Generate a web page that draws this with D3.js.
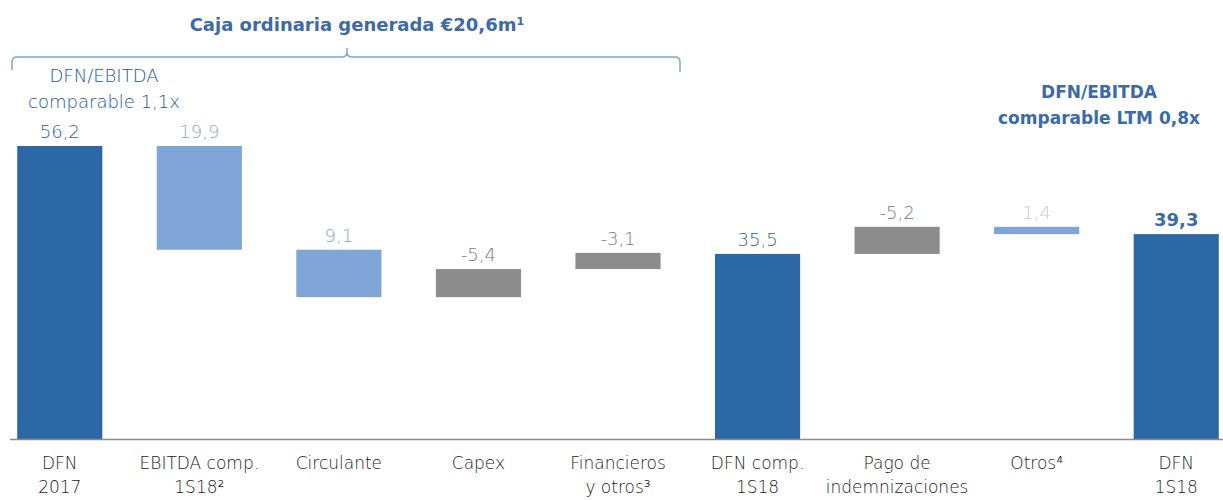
<!DOCTYPE html>
<html>
<head>
<meta charset="utf-8">
<script src="https://cdn.jsdelivr.net/npm/d3@7"></script>
<style>
  body { margin: 0; background: #fff; }
  svg { display: block; }
  text { font-family: "DejaVu Sans", Lato, sans-serif; }
</style>
</head>
<body>
<div id="visualization"></div>
<script>
// chart data
const categories = ["DFN 2017", "EBITDA comp. 1S18", "Circulante", "Capex", "Financieros y otros",
                    "DFN comp. 1S18", "Pago de indemnizaciones", "Otros", "DFN 1S18"];
const labelLines = [["DFN", "2017"], ["EBITDA comp.", "1S18²"], ["Circulante"], ["Capex"], ["Financieros", "y otros³"],
                    ["DFN comp.", "1S18"], ["Pago de", "indemnizaciones"], ["Otros⁴"], ["DFN", "1S18"]];
const values = [56.2, -19.9, -9.1, 5.4, 3.1, 35.5, 5.2, -1.4, 39.3];
const valueLabels = ["56,2", "19,9", "9,1", "-5,4", "-3,1", "35,5", "-5,2", "1,4", "39,3"];
const kinds = ["total", "down", "down", "up", "up", "total", "up", "down", "total"];

const W = 1223, H = 501;
const svg = d3.select("#visualization").append("svg")
    .attr("width", W).attr("height", H);

const x = d3.scaleBand()
    .domain(categories)
    .range([-10, 1246])
    .paddingInner(0.39)
    .paddingOuter(0.195);

const y = d3.scaleLinear()
    .domain([0, 56.2])
    .range([439, 146]);

// build waterfall segments
let level = 0;
const bars = categories.map((c, i) => {
    let lo, hi;
    if (kinds[i] == "total") {
        level = values[i];
        lo = 0; hi = values[i];
    } else {
        const next = level + values[i];
        lo = Math.min(level, next); hi = Math.max(level, next);
        level = next;
    }
    return { cat: c, lo: lo, hi: hi, kind: kinds[i], label: valueLabels[i], i: i };
});

const fill = { total: "#2d68a6", down: "#7ea5d6", up: "#8c8c8c" };
const labelColor = ["#2d5f9e", "#86a9d8", "#7ea5d6", "#777", "#777", "#2d5f9e", "#777", "#c8c8c8", "#3a6aa8"];

svg.selectAll(".bar")
    .data(bars)
    .enter().append("rect")
    .attr("class", "bar")
    .attr("x", d => x(d.cat))
    .attr("width", x.bandwidth())
    .attr("y", d => y(d.hi))
    .attr("height", d => Math.max(y(d.lo) - y(d.hi), 1))
    .attr("fill", d => fill[d.kind]);

// baseline
svg.append("line")
    .attr("x1", 10).attr("x2", W)
    .attr("y1", y(0) + 0.5).attr("y2", y(0) + 0.5)
    .attr("stroke", "#8a8a8a").attr("stroke-width", 1.5);

// value labels
svg.selectAll(".val")
    .data(bars)
    .enter().append("text")
    .attr("class", "val")
    .attr("x", d => x(d.cat) + x.bandwidth() / 2)
    .attr("y", d => y(d.hi) - 8)
    .attr("text-anchor", "middle")
    .style("font-size", "18px")
    .style("font-weight", d => d.i == 8 ? "bold" : 200)
    .attr("fill", d => labelColor[d.i])
    .text(d => d.label);

// category labels
const cl = svg.selectAll(".cat")
    .data(categories)
    .enter().append("text")
    .attr("class", "cat")
    .attr("x", d => x(d) + x.bandwidth() / 2)
    .attr("y", 469)
    .attr("text-anchor", "middle")
    .style("font-size", "17px")
    .style("font-weight", 200)
    .attr("fill", "#1a1a1a");
cl.selectAll("tspan")
    .data((d, i) => labelLines[i])
    .enter().append("tspan")
    .attr("x", function() { return d3.select(this.parentNode).attr("x"); })
    .attr("dy", (d, j) => j == 0 ? 0 : 24)
    .text(d => d);

// brace over the ordinary cash items
const braceColor = "#7ea5d6";
svg.append("path")
    .attr("d", "M12,70 L12,62 Q12,57 17,57 L342,57 Q347,57 347,52 L347,48 M347,52 Q347,57 352,57 L675,57 Q680,57 680,62 L680,72")
    .attr("fill", "none")
    .attr("stroke", braceColor)
    .attr("stroke-width", 1.5);

svg.append("text")
    .attr("x", 357).attr("y", 31)
    .attr("text-anchor", "middle")
    .style("font-size", "18px").style("font-weight", "bold")
    .attr("fill", "#3a6aa8")
    .text("Caja ordinaria generada €20,6m¹");

// left ratio note
svg.append("text")
    .attr("x", 104).attr("y", 82)
    .attr("text-anchor", "middle")
    .style("font-size", "18px")
    .style("font-weight", 200)
    .attr("fill", "#21569a")
    .selectAll("tspan")
    .data(["DFN/EBITDA", "comparable 1,1x"])
    .enter().append("tspan")
    .attr("x", 104)
    .attr("dy", (d, j) => j == 0 ? 0 : 26)
    .text(d => d);

// right ratio note
svg.append("text")
    .attr("x", 1099).attr("y", 98)
    .attr("text-anchor", "middle")
    .style("font-size", "17px").style("font-weight", "bold")
    .attr("fill", "#3a6aa8")
    .selectAll("tspan")
    .data(["DFN/EBITDA", "comparable LTM 0,8x"])
    .enter().append("tspan")
    .attr("x", 1099)
    .attr("dy", (d, j) => j == 0 ? 0 : 26)
    .text(d => d);
</script>
</body>
</html>
